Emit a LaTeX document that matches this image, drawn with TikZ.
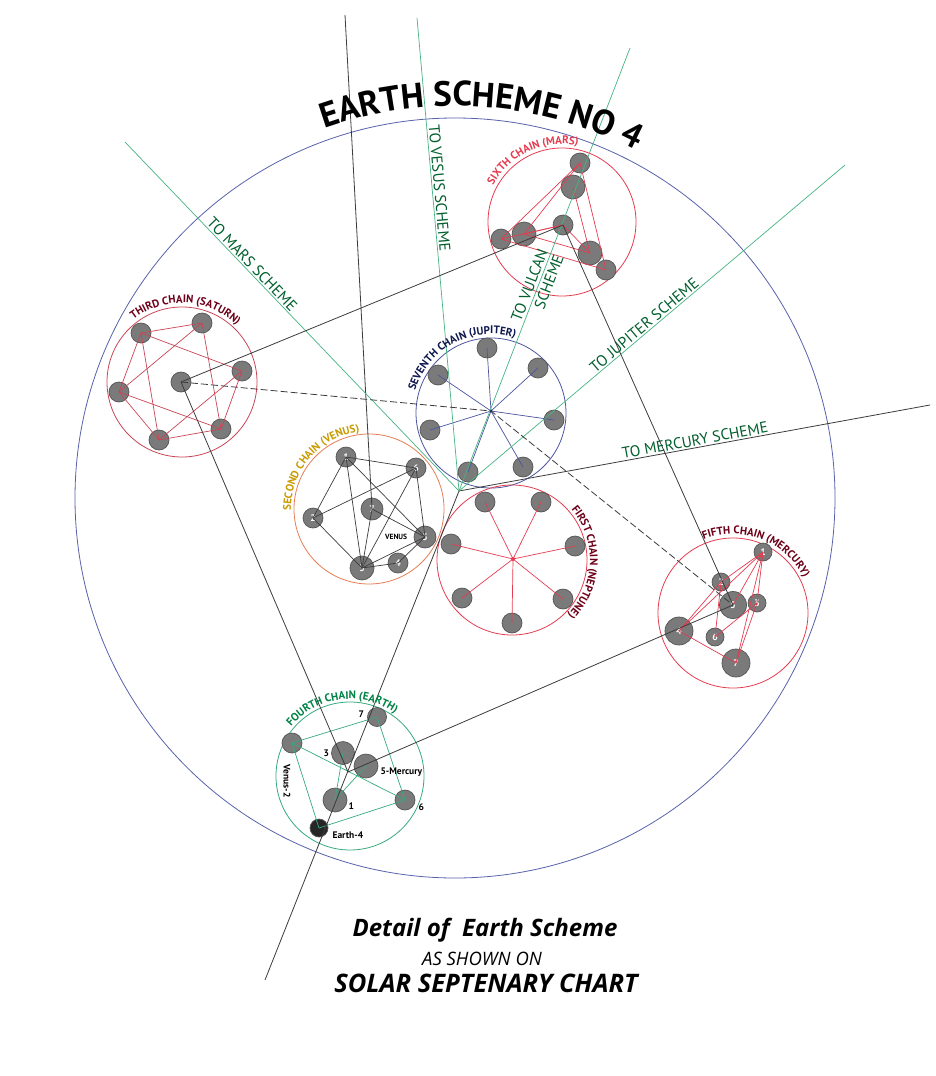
\documentclass[tikz,border=0pt]{standalone}
\usepackage{fontspec}
\setmainfont{PT Sans}
\newfontfamily\captionfamily{Open Sans}
\usetikzlibrary{positioning,decorations.text}

\definecolor{schemeblue}{RGB}{88,98,170}
\definecolor{schemegreen}{RGB}{70,180,130}
\definecolor{schemetext}{RGB}{0,95,45}
\definecolor{linkgray}{RGB}{60,60,60}
\definecolor{planetgray}{RGB}{122,122,122}
\definecolor{planetedge}{RGB}{85,85,85}
\definecolor{chainred}{RGB}{230,60,80}
\definecolor{saturnred}{RGB}{200,70,85}
\definecolor{chainmaroon}{RGB}{110,0,25}
\definecolor{jupiterblue}{RGB}{75,85,160}
\definecolor{jupitertext}{RGB}{15,25,80}
\definecolor{venusorange}{RGB}{230,125,85}
\definecolor{venusgold}{RGB}{200,155,0}
\definecolor{earthgreen}{RGB}{55,170,125}
\definecolor{earthtext}{RGB}{0,130,70}

\newcommand\titlefont{\bfseries\fontsize{35}{35}\selectfont}
\newcommand\chainfont{\bfseries\fontsize{11}{12}\selectfont}
\newcommand\schemefont{\fontsize{15.5}{17}\selectfont}

\begin{document}
\begin{tikzpicture}
    [
        x=1pt, y=-1pt,
        Orbit/.style={circle,draw=#1,line width=0.8pt,inner sep=0pt},
        Planet/.style={circle,fill=planetgray,draw=planetedge,line width=0.7pt,inner sep=0pt,minimum size=#1pt,text=white,font=\bfseries\fontsize{9.5}{9.5}\selectfont},
        Edge/.style={#1,line width=0.7pt},
        SchemeLine/.style={schemegreen,line width=0.7pt},
        SchemeText/.style={sloped,above,inner sep=1.5pt,text=schemetext,font=\schemefont},
        Link/.style={linkgray,line width=0.8pt},
        Label/.style={font=\bfseries\fontsize{9.5}{10}\selectfont,inner sep=1pt},
        ChainLabel/.style 2 args={decorate,decoration={text along path,text align=center,text color=#1,text={|\chainfont|#2}}}
    ]
    \useasboundingbox (0,0) rectangle (936,1076);
    \fill[white] (0,0) rectangle (936,1076);

    % the scheme and its chains
    \node[Orbit=schemeblue,minimum size=760pt] (scheme) at (455,498) {};
    \node[Orbit=saturnred,minimum size=150pt] (saturn) at (182,382) {};
    \node[Orbit=chainred,minimum size=148pt] (mars) at (562,222) {};
    \node[Orbit=jupiterblue,minimum size=150pt] (jupiter) at (491,413) {};
    \node[Orbit=venusorange,minimum size=150pt] (venus) at (369,509) {};
    \node[Orbit=chainred,minimum size=150pt] (neptune) at (512,560) {};
    \node[Orbit=chainred,minimum size=150pt] (mercury) at (733,613) {};
    \node[Orbit=earthgreen,minimum size=148pt] (earth) at (350,776) {};

    \coordinate (hub) at (459,491);
    \coordinate (toMars) at (125,142);
    \coordinate (toVesus) at (417,18);
    \coordinate (toVulcan) at (630,48);
    \coordinate (toJupiter) at (845,165);
    \coordinate (toMercury) at (930,405);
    \coordinate (down) at (265,980);
    \coordinate (up) at (345,15);
    \coordinate (jhub) at (491,411);
    \coordinate (nhub) at (513,559);
    \coordinate (earthhub) at (348,772);

    % third chain
    \node[Planet=20] (s0) at (181,382) {};
    \node[Planet=20] (s1) at (141,333) {};
    \node[Planet=20] (s2) at (202,323) {};
    \node[Planet=20] (s3) at (242,371) {};
    \node[Planet=20] (s4) at (119,392) {};
    \node[Planet=20] (s5) at (221,429) {};
    \node[Planet=20] (s6) at (159,440) {};

    % sixth chain
    \node[Planet=20] (m1) at (580,163) {};
    \node[Planet=24] (m2) at (573,187) {};
    \node[Planet=20] (m3) at (563,225) {};
    \node[Planet=24] (m4) at (524,234) {};
    \node[Planet=20] (m5) at (501,239) {};
    \node[Planet=24] (m6) at (590,253) {};
    \node[Planet=20] (m7) at (606,270) {};

    % seventh chain
    \node[Planet=20] (j1) at (487,348) {};
    \node[Planet=20] (j2) at (538,368) {};
    \node[Planet=20] (j3) at (554,420) {};
    \node[Planet=20] (j4) at (523,467) {};
    \node[Planet=20] (j5) at (468,472) {};
    \node[Planet=20] (j6) at (430,430) {};
    \node[Planet=20] (j7) at (438,375) {};

    % second chain
    \node[Planet=20] (v1) at (346,457) {1};
    \node[Planet=20] (v6) at (416,468) {6};
    \node[Planet=22] (v7) at (372,509) {7};
    \node[Planet=20] (v2) at (313,518) {2};
    \node[Planet=22] (v5) at (425,537) {5};
    \node[Planet=20] (v4) at (398,563) {4};
    \node[Planet=24] (v3) at (362,568) {3};

    % first chain
    \node[Planet=20] (n1) at (485,502) {};
    \node[Planet=20] (n2) at (541,502) {};
    \node[Planet=20] (n3) at (451,544) {};
    \node[Planet=20] (n4) at (575,546) {};
    \node[Planet=20] (n5) at (462,598) {};
    \node[Planet=20] (n6) at (563,599) {};
    \node[Planet=20] (n7) at (512,623) {};

    % fifth chain
    \begin{scope}[every node/.append style={font=\bfseries\itshape\fontsize{8.5}{8.5}\selectfont}]
    \node[Planet=18] (c1) at (763,552) {1};
    \node[Planet=18] (c2) at (721,582) {2};
    \node[Planet=27] (c5) at (733,605) {5};
    \node[Planet=18] (c3) at (757,603) {3};
    \node[Planet=28] (c4) at (679,631) {4};
    \node[Planet=18] (c6) at (715,637) {6};
    \node[Planet=28] (c7) at (736,663) {7};
    \end{scope}

    % fourth chain
    \node[Planet=19] (e7) at (377,717) {};
    \node[Planet=20] (e2) at (292,743) {};
    \node[Planet=23] (e3) at (343,753) {};
    \node[Planet=24] (e5) at (366,766) {};
    \node[Planet=24] (e1) at (335,800) {};
    \node[Planet=20] (e6) at (405,800) {};
    \node[Planet=18,fill=black!85] (e4) at (319,828) {};

    % rounds inside the chains
    \foreach \a/\b in {s1/s2,s1/s3,s1/s6,s1/s4,s2/s4,s2/s5,s3/s5,s3/s6,s4/s5,s4/s6,s6/s5}
        \draw[Edge=saturnred] (\a.center) -- (\b.center);
    \foreach \a/\b in {m1/m4,m1/m5,m1/m7,m2/m6,m5/m3,m4/m3,m5/m7,m4/m6,m3/m6}
        \draw[Edge=chainred] (\a.center) -- (\b.center);
    \foreach \p in {j1,j2,j3,j4,j5,j6,j7}
        \draw[Edge=jupiterblue] (jhub) -- (\p.center);
    \foreach \a/\b in {v1/v6,v1/v2,v1/v3,v1/v5,v6/v2,v6/v3,v6/v5,v2/v3,v7/v5,v7/v3,v3/v5,v3/v4,v4/v5}
        \draw[Edge=linkgray] (\a.center) -- (\b.center);
    \foreach \p in {n1,n2,n3,n4,n5,n6,n7}
        \draw[Edge=chainred] (nhub) -- (\p.center);
    \foreach \a/\b in {c1/c2,c1/c5,c1/c3,c3/c7,c1/c7,c2/c6,c3/c6,c4/c7,c4/c2,c4/c1}
        \draw[Edge=chainred] (\a.center) -- (\b.center);
    \foreach \a/\b in {e2/e7,e7/e6,e2/e6,e2/e4,e4/e6,e1/e3,e1/e5}
        \draw[Edge=earthgreen] (\a.center) -- (\b.center);
    \fill[jupitertext] (jhub) circle[radius=1.5];
    \fill[chainred] (nhub) circle[radius=2];

    % lines to the other schemes
    \draw[Link] (up) -- (v7.center);
    \draw[Link] (hub) -- (down);
    \draw[Link] (hub) -- node[SchemeText,pos=0.504] {TO MERCURY SCHEME} (toMercury);
    \draw[SchemeLine] (hub) -- node[SchemeText,pos=0.635] {TO MARS SCHEME} (toMars);
    \draw[SchemeLine] (hub) -- node[SchemeText,pos=0.639] {TO VESUS SCHEME} (toVesus);
    \draw[SchemeLine] (hub) -- node[pos=0.458,sloped,align=right,text=schemetext,font=\schemefont] {TO VULCAN\\SCHEME} (toVulcan);
    \draw[SchemeLine] (hub) -- node[SchemeText,pos=0.492] {TO JUPITER SCHEME} (toJupiter);

    % links between the chains
    \draw[Link] (s0.center) -- (m3.center);
    \draw[Link] (s0.center) -- (earthhub);
    \draw[Link] (m3.center) -- (c5.center);
    \draw[Link] (earthhub) -- (c5.center);
    \draw[Link,dash pattern=on 7pt off 3pt] (s0.center) -- (jhub) -- (c5.center);

    % names of the chains
    \path[decorate,decoration={text along path,text align=center,text={|\titlefont|EARTH SCHEME NO 4}}]
        (scheme.center) ++(-126:392) arc[start angle=-126,end angle=-46,radius=392];
    \path[ChainLabel={chainmaroon}{THIRD CHAIN (SATURN)}] (saturn.center) ++(-152:79) arc[start angle=-152,end angle=-22,radius=79];
    \path[ChainLabel={chainred}{SIXTH CHAIN (MARS)}] (mars.center) ++(-180:78) arc[start angle=-180,end angle=-50,radius=78];
    \path[ChainLabel={jupitertext}{SEVENTH CHAIN (JUPITER)}] (jupiter.center) ++(-183:79) arc[start angle=-183,end angle=-53,radius=79];
    \path[ChainLabel={venusgold}{SECOND CHAIN (VENUS)}] (venus.center) ++(-204:78) arc[start angle=-204,end angle=-74,radius=78];
    \path[ChainLabel={chainmaroon}{FIRST CHAIN (NEPTUNE)}] (neptune.center) ++(-63:78) arc[start angle=-63,end angle=67,radius=78];
    \path[ChainLabel={chainmaroon}{FIFTH CHAIN (MERCURY)}] (mercury.center) ++(-134:79) arc[start angle=-134,end angle=-4,radius=79];
    \path[ChainLabel={earthtext}{FOURTH CHAIN (EARTH)}] (earth.center) ++(-162:77) arc[start angle=-162,end angle=-32,radius=77];

    % names of the planets
    \node[font=\bfseries\fontsize{7.5}{7.5}\selectfont,left=3pt of v5] (venusname) {VENUS};
    \node[Label,left=2pt of e7,yshift=3pt] {7};
    \node[Label,left=1pt of e3] {3};
    \node[Label,right=1pt of e5,yshift=-6pt] {5-Mercury};
    \node[Label,right=0pt of e1,yshift=-6pt] {1};
    \node[Label,right=2pt of e6,yshift=-7pt] {6};
    \node[Label,right=3pt of e4,yshift=-7pt] {Earth-4};
    \node[Label,rotate=-90] (venus2) at (287,781) {Venus-2};

    % caption
    \node[font=\captionfamily\bfseries\itshape\fontsize{24}{26}\selectfont] (detail) at (485,930) {Detail of~ Earth Scheme};
    \node[font=\captionfamily\itshape\fontsize{18.5}{20}\selectfont] (shown) at (482,959) {AS SHOWN ON};
    \node[font=\captionfamily\bfseries\itshape\fontsize{25.5}{27}\selectfont] (chart) at (486,983) {SOLAR SEPTENARY CHART};
\end{tikzpicture}
\end{document}
